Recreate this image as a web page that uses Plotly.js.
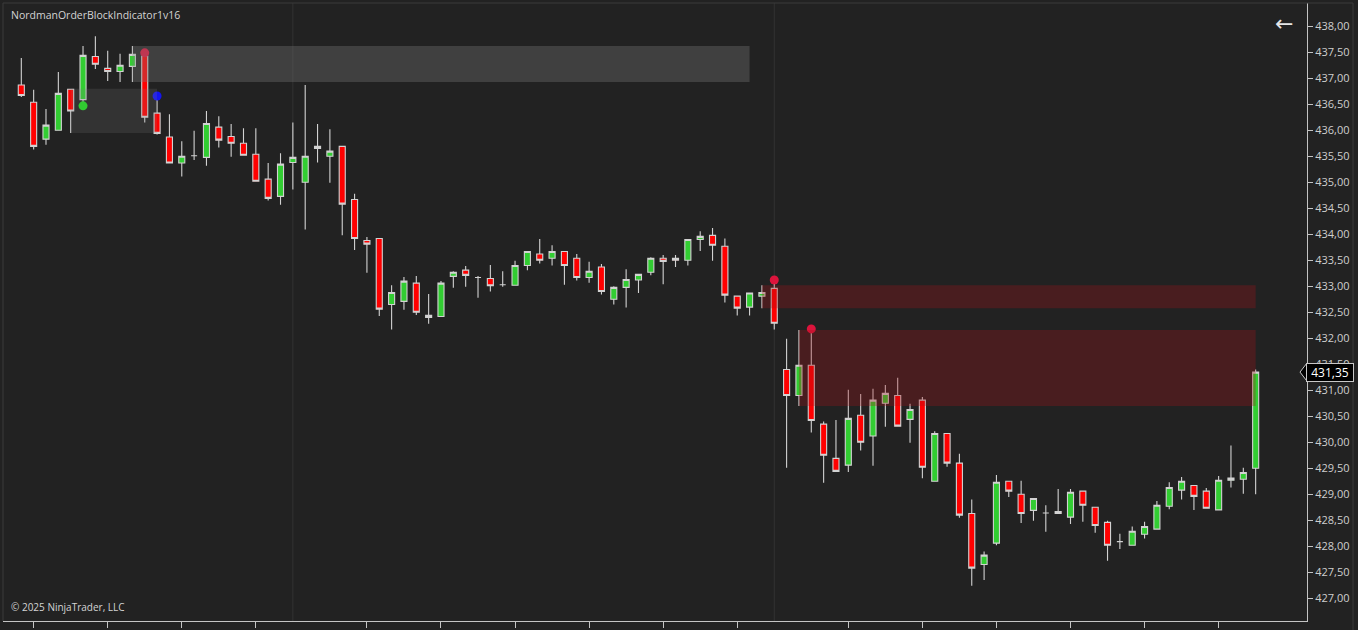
<!DOCTYPE html>
<html>
<head>
<meta charset="utf-8">
<script src="https://cdn.plot.ly/plotly-3.0.1.min.js"></script>
<style>
html,body{margin:0;padding:0;background:#222222;}
#chart{width:1358px;height:630px;}
</style>
</head>
<body>
<div id="chart"></div>
<script>
// ---- Data ----
var openP = [436.87,436.54,435.83,436.00,436.79,436.59,437.42,437.19,437.13,437.23,
437.43,436.33,435.87,435.37,435.51,435.48,436.06,435.88,435.75,435.54,
435.06,434.73,435.38,435.00,435.69,435.50,435.69,434.67,433.88,433.92,
432.65,432.71,433.06,432.40,432.42,433.19,433.31,433.17,433.15,433.03,
433.02,433.40,433.62,433.54,433.67,433.54,433.17,433.37,432.75,432.98,
433.12,433.27,433.54,433.54,433.50,433.90,433.98,433.77,432.81,432.60,
432.81,432.96,431.40,430.90,431.48,430.35,429.69,429.56,430.52,430.12,
430.75,430.90,430.44,430.81,429.25,430.17,429.60,428.63,427.65,428.06,
429.25,429.00,428.69,428.64,428.67,428.56,429.06,428.75,428.46,428.09,
428.02,428.23,428.33,428.77,429.08,429.17,429.06,428.70,429.27,429.29,
429.50];
var highP = [437.39,436.78,436.41,437.12,436.80,437.62,437.81,437.53,437.47,437.62,
437.45,436.65,436.31,435.79,435.99,436.37,436.27,436.12,436.04,436.04,
435.37,435.56,436.15,436.87,436.12,436.02,435.70,434.78,433.95,433.93,
433.02,433.18,433.20,432.85,433.10,433.29,433.39,433.20,433.41,433.29,
433.49,433.68,433.91,433.79,433.68,433.62,433.47,433.43,433.00,433.33,
433.24,433.56,433.60,433.60,433.91,434.06,434.12,433.92,432.82,432.88,
433.02,433.06,431.99,432.16,432.12,430.40,430.43,431.01,430.93,431.03,
431.10,431.24,430.74,430.87,430.21,430.18,429.78,428.90,427.90,429.37,
429.26,429.26,428.93,428.79,429.10,429.10,429.07,428.76,428.49,428.24,
428.38,428.47,428.87,429.23,429.33,429.18,429.12,429.35,429.94,429.51,
431.40];
var lowP = [436.64,435.63,435.72,435.99,435.95,436.45,437.18,436.95,436.93,436.93,
436.15,435.92,435.36,435.11,435.43,435.32,435.67,435.49,435.51,435.01,
434.65,434.57,434.86,434.09,435.38,434.99,433.98,433.70,433.26,432.43,
432.17,432.55,432.45,432.28,432.41,432.97,432.99,432.78,432.90,432.99,
433.01,433.31,433.44,433.40,433.03,433.11,433.07,432.84,432.65,432.59,
432.87,433.21,433.04,433.37,433.40,433.68,433.49,432.69,432.44,432.44,
432.58,432.17,429.51,430.70,430.19,429.22,429.43,429.43,429.84,429.55,
430.30,430.30,429.99,429.31,429.24,429.53,428.55,427.24,427.35,428.02,
428.95,428.45,428.49,428.28,428.62,428.43,428.47,428.26,427.72,427.95,
428.01,428.15,428.32,428.71,428.90,428.70,428.72,428.69,429.13,429.01,
429.00];
var closeP = [436.67,435.69,436.10,436.71,436.37,437.44,437.27,437.13,437.25,437.46,
436.25,435.94,435.37,435.50,435.51,436.13,435.81,435.75,435.52,435.02,
434.69,435.35,435.48,435.50,435.65,435.60,434.58,433.92,433.81,432.56,
432.88,433.10,432.50,432.44,433.06,433.27,433.21,433.17,433.01,433.03,
433.40,433.67,433.50,433.67,433.40,433.17,433.29,432.90,432.98,433.13,
433.23,433.54,433.48,433.50,433.90,433.96,433.79,432.83,432.58,432.87,
432.88,432.29,430.90,431.48,430.42,429.75,429.44,430.46,430.00,430.81,
430.94,430.31,430.63,429.52,430.17,429.60,428.60,427.58,427.83,429.23,
429.06,428.63,428.92,428.64,428.63,429.04,428.79,428.40,428.02,428.09,
428.29,428.38,428.79,429.13,429.25,428.96,428.73,429.27,429.31,429.42,
431.35];

// order-block zones (bar index from/to, price top/bottom)
var grayZoneFrom = [4, 9];
var grayZoneTo = [11, 59];
var grayZoneTop = [436.80, 437.62];
var grayZoneBottom = [435.95, 436.93];
var redZoneFrom = [60, 63];
var redZoneTo = [100, 100];
var redZoneTop = [433.02, 432.16];
var redZoneBottom = [432.58, 430.70];

// signal dots
var greenDotBar = [5];   var greenDotPrice = [436.47];
var redDotBar = [10, 61, 64]; var redDotPrice = [437.49, 433.12, 432.18];
var blueDotBar = [11];   var blueDotPrice = [436.66];

// session separators and time ticks (bar index)
var sessionBreaks = [22, 61];
var timeTicks = [1,7,13,19,28,34,40,46,52,58,67,73,79,85,91,97];

var titleText = "NordmanOrderBlockIndicator1v16";
var copyrightText = "\u00a9 2025 NinjaTrader, LLC";

// ---- Build ----
var barIdx = openP.map(function(_, i){ return i; });

var traces = [{
  type: 'candlestick',
  x: barIdx, open: openP, high: highP, low: lowP, close: closeP,
  increasing: {fillcolor: '#32cd32', line: {color: '#d2d2d2', width: 1.1}},
  decreasing: {fillcolor: '#ff0000', line: {color: '#d2d2d2', width: 1.1}},
  whiskerwidth: 0,
  hoverinfo: 'skip',
  showlegend: false
},{
  type: 'scatter', mode: 'markers', x: greenDotBar, y: greenDotPrice,
  marker: {color: '#1fdc1f', size: 9}, hoverinfo: 'skip', showlegend: false
},{
  type: 'scatter', mode: 'markers', x: redDotBar, y: redDotPrice,
  marker: {color: '#dc143c', size: 9}, hoverinfo: 'skip', showlegend: false
},{
  type: 'scatter', mode: 'markers', x: blueDotBar, y: blueDotPrice,
  marker: {color: '#1414f0', size: 9}, hoverinfo: 'skip', showlegend: false
}];

var shapes = [];
sessionBreaks.forEach(function(b){
  shapes.push({type:'line', xref:'x', yref:'paper', x0:b, x1:b, y0:0, y1:1,
    line:{color:'#333333', width:1}, layer:'below'});
});
var grayFill = ['rgba(128,128,128,0.19)', 'rgba(128,128,128,0.32)'];
grayZoneFrom.forEach(function(f, i){
  shapes.push({type:'rect', xref:'x', yref:'y', x0:f, x1:grayZoneTo[i],
    y0:grayZoneBottom[i], y1:grayZoneTop[i], fillcolor:grayFill[i],
    line:{width:0}, layer:'above'});
});
redZoneFrom.forEach(function(f, i){
  shapes.push({type:'rect', xref:'x', yref:'y', x0:f, x1:redZoneTo[i],
    y0:redZoneBottom[i], y1:redZoneTop[i], fillcolor:'rgba(165,20,25,0.3)',
    line:{width:0}, layer:'above'});
});
// frame lines
shapes.push({type:'line', xref:'paper', yref:'paper', x0:0, x1:0, y0:0, y1:1, line:{color:'#3a3a3a', width:1}});
shapes.push({type:'line', xref:'paper', yref:'paper', x0:0, x1:1.0353, y0:1, y1:1, line:{color:'#3a3a3a', width:1}});
shapes.push({type:'line', xref:'paper', yref:'paper', x0:1.0353, x1:1.0353, y0:-0.02, y1:1, line:{color:'#3a3a3a', width:1}});

// last price marker (arrow tip + opaque label box)
var last = closeP[closeP.length - 1];
var hh = 0.175;
function px(v){ return (v - 3) / 1304; }
shapes.push({type:'path', xref:'paper', yref:'y',
  path: 'M ' + px(1300) + ',' + last + ' L ' + px(1307) + ',' + (last + hh) +
        ' L ' + px(1307) + ',' + (last - hh) + ' Z',
  fillcolor:'#000000', line:{color:'#c8c8c8', width:1}, layer:'above'});

var annotations = [
  {xref:'paper', yref:'paper', x:px(9), y:(621-15)/618, xanchor:'left', yanchor:'middle',
   text:titleText, showarrow:false, font:{family:'Open Sans', size:10.5, color:'#d4d4d4'}},
  {xref:'paper', yref:'paper', x:px(9), y:(621-607)/618, xanchor:'left', yanchor:'middle',
   text:copyrightText, showarrow:false, font:{family:'Open Sans', size:10, color:'#d4d4d4'}},
  {xref:'paper', yref:'paper', x:px(1284), y:(621-24)/618, xanchor:'center', yanchor:'middle',
   text:'\u2190', showarrow:false, font:{family:'DejaVu Sans', size:22, color:'#e6e6e6'}},
  {xref:'paper', yref:'y', x:px(1330), y:last, xanchor:'center', yanchor:'middle',
   text: last.toFixed(2).replace('.', ','), showarrow:false,
   width:44, height:15, borderpad:1, borderwidth:1,
   bgcolor:'#000000', bordercolor:'#c8c8c8',
   font:{family:'Open Sans', size:12, color:'#ffffff'}}
];

var layout = {
  width: 1358, height: 630,
  margin: {l:3, r:51, t:3, b:9, pad:0},
  paper_bgcolor: '#222222', plot_bgcolor: '#222222',
  separators: ',.',
  showlegend: false,
  xaxis: {
    range: [-1.483, 104.16], showgrid:false, zeroline:false,
    showline:true, linecolor:'#c4c4c4', linewidth:1,
    ticks:'outside', ticklen:6, tickcolor:'#c4c4c4', tickwidth:1,
    tickmode:'array', tickvals: timeTicks, showticklabels:false,
    rangeslider:{visible:false}, fixedrange:true
  },
  yaxis: {
    side:'right', range:[426.563, 438.448], showgrid:false, zeroline:false,
    showline:true, linecolor:'#c4c4c4', linewidth:1,
    ticks:'outside', ticklen:5, tickcolor:'#c4c4c4', tickwidth:1,
    dtick:0.5, tick0:0, tickformat:'.2f',
    tickfont:{family:'Open Sans', size:11, color:'#cfcfcf'}, fixedrange:true
  },
  shapes: shapes,
  annotations: annotations
};

Plotly.newPlot('chart', traces, layout, {displayModeBar:false, staticPlot:true});
</script>
</body>
</html>
